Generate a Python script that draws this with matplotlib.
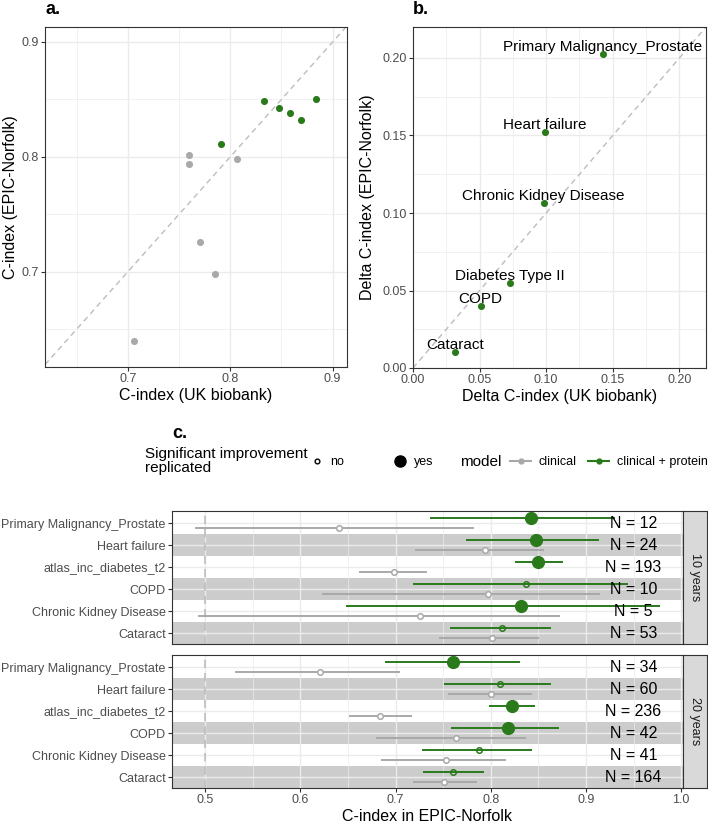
import matplotlib
matplotlib.use("Agg")
import matplotlib.pyplot as plt
import numpy as np
from matplotlib.lines import Line2D
from matplotlib.ticker import MultipleLocator

plt.rcParams["font.family"] = ["Liberation Sans", "DejaVu Sans"]

GREEN = "#2a7a1c"
GREY = "#a9a9a9"
DASH = "#bdbdbd"
BAND = "#cccccc"
DARK = "#333333"
TICKTXT = "#4d4d4d"
GRID = "#ebebeb"

# panel a: C-index UK biobank vs EPIC-Norfolk
a_uk_protein = [0.833, 0.848, 0.858, 0.8695, 0.884, 0.791]
a_epic_protein = [0.8487, 0.8423, 0.8377, 0.8319, 0.8501, 0.8113]
a_uk_clinical = [0.7593, 0.760, 0.8069, 0.7708, 0.7846, 0.7056]
a_epic_clinical = [0.8012, 0.7939, 0.7977, 0.7255, 0.6983, 0.640]

# panel b: delta C-index
b_labels = ["Primary Malignancy_Prostate", "Heart failure", "Chronic Kidney Disease",
            "Diabetes Type II", "COPD", "Cataract"]
b_delta_uk = [0.1423, 0.0993, 0.098, 0.0726, 0.0507, 0.0313]
b_delta_epic = [0.2024, 0.1521, 0.1064, 0.0547, 0.0403, 0.0103]

# panel c: forest plot
diseases = ["Primary Malignancy_Prostate", "Heart failure", "atlas_inc_diabetes_t2",
            "COPD", "Chronic Kidney Disease", "Cataract"]
horizons = ["10 years", "20 years"]
n_cases = {"10 years": [12, 24, 193, 10, 5, 53],
           "20 years": [34, 60, 236, 42, 41, 164]}
clin_est = {"10 years": [0.6402, 0.7937, 0.698, 0.7972, 0.7254, 0.8014],
            "20 years": [0.6206, 0.8004, 0.684, 0.7636, 0.7534, 0.7513]}
clin_lo = {"10 years": [0.4895, 0.7201, 0.662, 0.623, 0.4923, 0.746],
           "20 years": [0.5308, 0.7548, 0.6507, 0.6798, 0.6847, 0.718]}
clin_hi = {"10 years": [0.7821, 0.8558, 0.7331, 0.9153, 0.8726, 0.8505],
           "20 years": [0.705, 0.8435, 0.717, 0.8375, 0.8162, 0.7857]}
prot_est = {"10 years": [0.8425, 0.848, 0.8498, 0.8375, 0.832, 0.8113],
            "20 years": [0.760, 0.8095, 0.8228, 0.8186, 0.7874, 0.7605]}
prot_lo = {"10 years": [0.7366, 0.7744, 0.8253, 0.7184, 0.6483, 0.7576],
           "20 years": [0.6893, 0.7513, 0.7979, 0.7583, 0.7278, 0.7285]}
prot_hi = {"10 years": [0.9304, 0.9136, 0.8754, 0.9445, 0.9777, 0.8635],
           "20 years": [0.8305, 0.8638, 0.846, 0.8719, 0.8435, 0.7927]}
prot_sig = {"10 years": [True, True, True, False, True, False],
            "20 years": [True, False, True, True, False, False]}

fig = plt.figure(figsize=(7.08, 8.25), dpi=100)


def style_axes(ax):
    for s in ax.spines.values():
        s.set_color(DARK)
        s.set_linewidth(0.8)
    ax.tick_params(colors=DARK, labelcolor=TICKTXT, labelsize=9, length=3, width=0.8, pad=1.5)
    ax.set_axisbelow(True)
    ax.grid(True, which="major", color=GRID, lw=1.0)
    ax.grid(True, which="minor", color=GRID, lw=0.5)
    ax.tick_params(which="minor", length=0)


# ---- panel a ----
ax_a = fig.add_axes([45 / 708, 1 - 367 / 825, 302 / 708, 340 / 825])
ax_a.axline((0.5, 0.5), slope=1, color=DASH, ls=(0, (4, 3)), lw=1)
ax_a.scatter(a_uk_clinical, a_epic_clinical, s=26, color=GREY, zorder=3, lw=0)
ax_a.scatter(a_uk_protein, a_epic_protein, s=26, color=GREEN, zorder=3, lw=0)
ax_a.set_xlim(0.619, 0.914)
ax_a.set_ylim(0.617, 0.913)
ax_a.xaxis.set_minor_locator(MultipleLocator(0.05))
ax_a.yaxis.set_minor_locator(MultipleLocator(0.05))
ax_a.set_xticks([0.7, 0.8, 0.9], ["0.7", "0.8", "0.9"])
ax_a.set_yticks([0.7, 0.8, 0.9], ["0.7", "0.8", "0.9"])
style_axes(ax_a)
ax_a.set_xlabel("C-index (UK biobank)", fontsize=11.5)
ax_a.set_ylabel("C-index (EPIC-Norfolk)", fontsize=11.5)
ax_a.xaxis.set_label_coords(0.5, -0.062)
ax_a.yaxis.set_label_coords(-0.088, 0.5)
fig.text(45 / 708, 1 - 10 / 825, "a.", fontsize=13, fontweight="bold", va="center")

# ---- panel b ----
ax_b = fig.add_axes([413 / 708, 1 - 368 / 825, 293 / 708, 341 / 825])
ax_b.axline((0, 0), slope=1, color=DASH, ls=(0, (4, 3)), lw=1)
ax_b.scatter(b_delta_uk, b_delta_epic, s=26, color=GREEN, zorder=3, lw=0)
for lab, x, y in zip(b_labels, b_delta_uk, b_delta_epic):
    ax_b.annotate(lab, (x, y), xytext=(0, 5), textcoords="offset points",
                  ha="center", va="center", fontsize=11, zorder=4)
ax_b.set_xlim(0, 0.22)
ax_b.set_ylim(0, 0.22)
ax_b.xaxis.set_minor_locator(MultipleLocator(0.025))
ax_b.yaxis.set_minor_locator(MultipleLocator(0.025))
ax_b.set_xticks([0, 0.05, 0.10, 0.15, 0.20], ["0.00", "0.05", "0.10", "0.15", "0.20"])
ax_b.set_yticks([0, 0.05, 0.10, 0.15, 0.20], ["0.00", "0.05", "0.10", "0.15", "0.20"])
style_axes(ax_b)
ax_b.set_xlabel("Delta C-index (UK biobank)", fontsize=11.5)
ax_b.set_ylabel("Delta C-index (EPIC-Norfolk)", fontsize=11.5)
ax_b.xaxis.set_label_coords(0.5, -0.062)
ax_b.yaxis.set_label_coords(-0.128, 0.5)
fig.text(413 / 708, 1 - 10 / 825, "b.", fontsize=13, fontweight="bold", va="center")

# ---- panel c ----
fig.text(172 / 708, 1 - 433 / 825, "c.", fontsize=13, fontweight="bold", va="center")
fig.text(145 / 708, 1 - 461 / 825, "Significant improvement\nreplicated",
         fontsize=11, va="center", ha="left", linespacing=1.05)
sig_handles = [Line2D([], [], ls="", marker="o", ms=3.4, mfc="none", mec="black", mew=1),
               Line2D([], [], ls="", marker="o", ms=8, color="black")]
fig.legend(sig_handles, ["no", "yes"], ncol=2, frameon=False, fontsize=9,
           loc="center left", bbox_to_anchor=(309 / 708, 1 - 462 / 825),
           handlelength=1.2, handletextpad=0.5, columnspacing=3.9,
           borderaxespad=0, borderpad=0)
fig.text(460 / 708, 1 - 462 / 825, "model", fontsize=11, va="center", ha="left")
model_handles = [Line2D([], [], color=GREY, marker="o", ms=3.5, lw=1.5),
                 Line2D([], [], color=GREEN, marker="o", ms=3.5, lw=1.5)]
fig.legend(model_handles, ["clinical", "clinical + protein"], ncol=2,
           frameon=False, fontsize=9, loc="center left",
           bbox_to_anchor=(510 / 708, 1 - 462 / 825),
           handlelength=1.7, handletextpad=0.6, columnspacing=0.9,
           borderaxespad=0, borderpad=0)

rows = np.arange(len(diseases))
dodge = 0.23
panel_tops = [511, 655]
for i, h in enumerate(horizons):
    top = panel_tops[i]
    ax = fig.add_axes([172 / 708, 1 - (top + 133) / 825, 511 / 708, 133 / 825])
    ax.set_xlim(0.465, 1.002)
    ax.set_ylim(5.5, -0.55)
    ax.xaxis.set_major_locator(MultipleLocator(0.1))
    ax.xaxis.set_minor_locator(MultipleLocator(0.05))
    ax.set_yticks(rows, diseases)
    style_axes(ax)
    for r in rows:
        if r % 2 == 1:
            ax.axhspan(r - 0.5, r + 0.5, color=BAND, lw=0, zorder=0.5)
    ax.axvline(0.5, color=DASH, ls=(0, (5, 3)), lw=1.2, zorder=1)

    # clinical model (never significant)
    ax.hlines(rows + dodge, clin_lo[h], clin_hi[h], color=GREY, lw=1.4, zorder=2)
    ax.plot(clin_est[h], rows + dodge, ls="", marker="o", ms=4, mfc="white",
            mec=GREY, mew=1.1, zorder=3)
    # clinical + protein
    ax.hlines(rows - dodge, prot_lo[h], prot_hi[h], color=GREEN, lw=1.4, zorder=2)
    sig = np.array(prot_sig[h])
    est = np.array(prot_est[h])
    ax.plot(est[sig], (rows - dodge)[sig], ls="", marker="o", ms=8.5,
            color=GREEN, zorder=3)
    ax.plot(est[~sig], (rows - dodge)[~sig], ls="", marker="o", ms=4, mfc="none",
            mec=GREEN, mew=1.1, zorder=3)

    for r, n in zip(rows, n_cases[h]):
        ax.text(0.95, r, f"N = {n}", ha="center", va="center", fontsize=11.5, zorder=4)

    if i == 0:
        ax.tick_params(axis="x", bottom=False, labelbottom=False)
    else:
        ax.set_xticks([0.5, 0.6, 0.7, 0.8, 0.9, 1.0],
                      ["0.5", "0.6", "0.7", "0.8", "0.9", "1.0"])
        ax.set_xlabel("C-index in EPIC-Norfolk", fontsize=11.5, labelpad=2)

    strip = fig.add_axes([683 / 708, 1 - (top + 133) / 825, 24 / 708, 133 / 825])
    strip.set_facecolor("#d9d9d9")
    strip.set_xticks([])
    strip.set_yticks([])
    for s in strip.spines.values():
        s.set_color(DARK)
        s.set_linewidth(0.8)
    strip.text(0.5, 0.5, h, rotation=-90, ha="center", va="center",
               fontsize=9, color="#1a1a1a", transform=strip.transAxes)

fig.savefig("out.png", dpi=100)
